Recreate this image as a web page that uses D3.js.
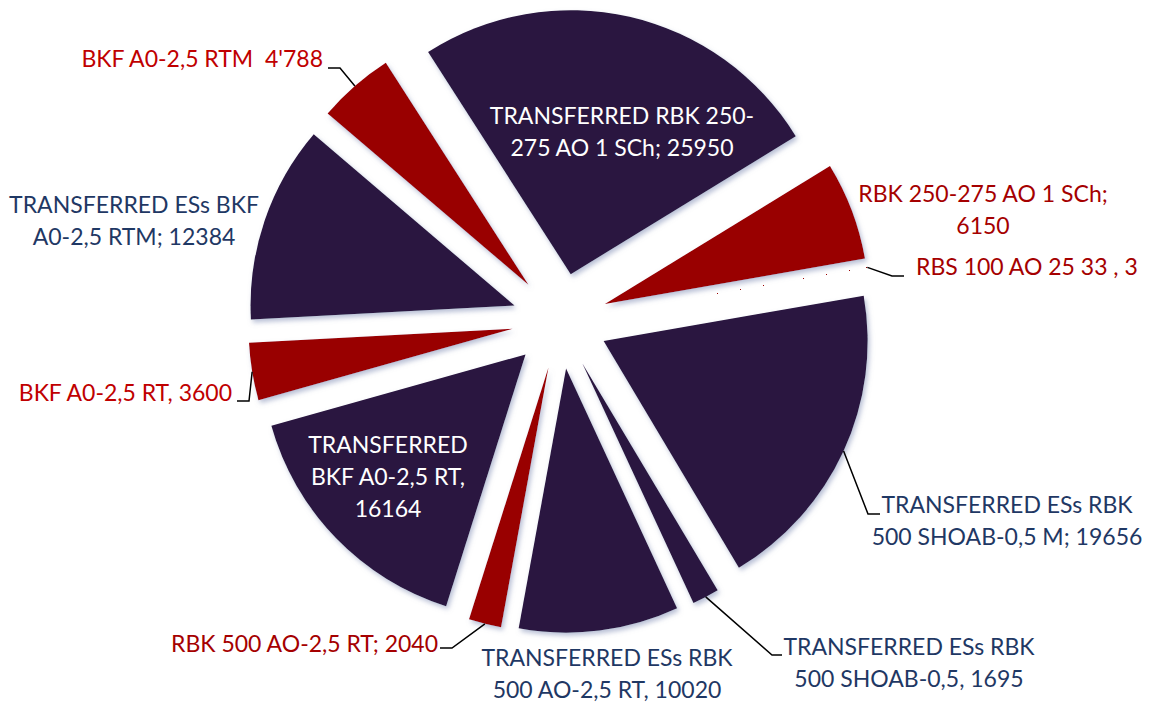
<!DOCTYPE html>
<html>
<head>
<meta charset="utf-8">
<script src="https://cdn.jsdelivr.net/npm/d3@7"></script>
<style>
  body { margin: 0; background: #fff; }
  svg text { font-family: Lato, "Open Sans", sans-serif; font-size: 23px; white-space: pre; }
</style>
</head>
<body>
<div id="chart"></div>
<script>
// Data, clockwise from the top slice
const categories = [
    'TRANSFERRED RBK 250-275 AO 1 SCh',
    'RBK 250-275 AO 1 SCh',
    'RBS 100 AO 25 33',
    'TRANSFERRED ESs RBK 500 SHOAB-0,5 M',
    'TRANSFERRED ESs RBK 500 SHOAB-0,5',
    'TRANSFERRED ESs RBK 500 AO-2,5 RT',
    'RBK 500 AO-2,5 RT',
    'TRANSFERRED BKF A0-2,5 RT',
    'BKF A0-2,5 RT',
    'TRANSFERRED ESs BKF A0-2,5 RTM',
    'BKF A0-2,5 RTM'
];
const values = [25950, 6150, 3, 19656, 1695, 10020, 2040, 16164, 3600, 12384, 4788];

// Label text as shown on the chart
const labelLines = [
    ['TRANSFERRED RBK 250-', '275 AO 1 SCh; 25950'],
    ['RBK 250-275 AO 1 SCh;', '6150'],
    ['RBS 100 AO 25 33 , 3'],
    ['TRANSFERRED ESs RBK', '500 SHOAB-0,5 M; 19656'],
    ['TRANSFERRED ESs RBK', '500 SHOAB-0,5, 1695'],
    ['TRANSFERRED ESs RBK', '500 AO-2,5 RT, 10020'],
    ['RBK 500 AO-2,5 RT; 2040'],
    ['TRANSFERRED', 'BKF A0-2,5 RT,', '16164'],
    ['BKF A0-2,5 RT, 3600'],
    ['TRANSFERRED ESs BKF', 'A0-2,5 RTM; 12384'],
    ['BKF A0-2,5 RTM  4\'788']
];

// Label placement (manually placed labels, like the original)
// x, y = anchor / first baseline; leader = [elbow, end] or null
const labelLayout = [
    { x: 622, y: 124, anchor: 'middle', color: '#ffffff', leader: null },
    { x: 983, y: 202, anchor: 'middle', color: '#a50000', leader: null },
    { x: 916, y: 275, anchor: 'start', color: '#a50000', leader: [[892, 276], [904, 276]] },
    { x: 1007, y: 513, anchor: 'middle', color: '#1f3864', leader: [[868, 514], [880, 514]] },
    { x: 909, y: 655, anchor: 'middle', color: '#1f3864', leader: [[772, 655], [782, 655]] },
    { x: 607, y: 666, anchor: 'middle', color: '#1f3864', leader: null },
    { x: 438, y: 652, anchor: 'end', color: '#a50000', leader: [[452, 648], [440, 648]] },
    { x: 388, y: 453, anchor: 'middle', color: '#ffffff', leader: null },
    { x: 232, y: 401, anchor: 'end', color: '#c00000', leader: [[249, 401], [237, 401]] },
    { x: 134, y: 213, anchor: 'middle', color: '#1f3864', leader: null },
    { x: 323, y: 67, anchor: 'end', color: '#c00000', leader: [[340, 68], [328, 68]] }
];

const width = 1150;
const height = 704;
const center = { x: 560, y: 321 };
const radius = 264;
const explode = 48;
const lineHeight = 32;

const svg = d3.select('#chart')
    .append('svg')
    .attr('width', width)
    .attr('height', height);

// soft bluish shadow under slices
const defs = svg.append('defs');
defs.append('filter')
    .attr('id', 'shadow')
    .attr('x', '-20%').attr('y', '-20%')
    .attr('width', '140%').attr('height', '140%')
    .append('feDropShadow')
    .attr('dx', 2).attr('dy', 3)
    .attr('stdDeviation', 2.5)
    .attr('flood-color', '#7d8bb3')
    .attr('flood-opacity', 0.55);

const pie = d3.pie()
    .sort(null)
    .value(d => d.value)
    .startAngle(-32.7 * Math.PI / 180)
    .endAngle((360 - 32.7) * Math.PI / 180);

const arc = d3.arc()
    .innerRadius(0)
    .outerRadius(radius);

const data = categories.map((c, i) => ({ name: c, value: values[i], i: i }));
const arcs = pie(data);

const colorOf = d => d.name.startsWith('TRANSFERRED') ? '#2c1440' : '#990000';

// offset of an exploded slice along its bisector
const offset = d => {
    const a = (d.startAngle + d.endAngle) / 2;
    return [explode * Math.sin(a), -explode * Math.cos(a)];
};

const isSliver = d => (d.endAngle - d.startAngle) < 0.01;

const g = svg.append('g')
    .attr('transform', `translate(${center.x}, ${center.y})`);

g.selectAll('path.slice')
    .data(arcs)
    .join('path')
    .attr('class', 'slice')
    .attr('d', arc)
    .attr('transform', d => `translate(${offset(d)})`)
    .attr('fill', d => colorOf(d.data))
    // the hair-thin slice (value 3) gets no shadow / antialiasing, as in the original
    .attr('filter', d => isSliver(d) ? null : 'url(#shadow)')
    .attr('shape-rendering', d => isSliver(d) ? 'crispEdges' : null);

// Leader lines: from the outer edge at the bisector to the label
const leaders = svg.append('g');
arcs.forEach((d, i) => {
    const lay = labelLayout[i];
    if (!lay.leader) return;
    const a = (d.startAngle + d.endAngle) / 2;
    const [ox, oy] = offset(d);
    const start = [center.x + ox + radius * Math.sin(a), center.y + oy - radius * Math.cos(a)];
    leaders.append('path')
        .attr('d', d3.line()([start, lay.leader[0], lay.leader[1]]))
        .attr('fill', 'none')
        .attr('stroke', '#000')
        .attr('stroke-width', 1.5);
});

// Labels
const labels = svg.append('g');
labelLines.forEach((lines, i) => {
    const lay = labelLayout[i];
    const t = labels.append('text')
        .attr('text-anchor', lay.anchor)
        .attr('fill', lay.color);
    lines.forEach((line, k) => {
        t.append('tspan')
            .attr('x', lay.x)
            .attr('y', lay.y + k * lineHeight)
            .text(line);
    });
});
</script>
</body>
</html>
